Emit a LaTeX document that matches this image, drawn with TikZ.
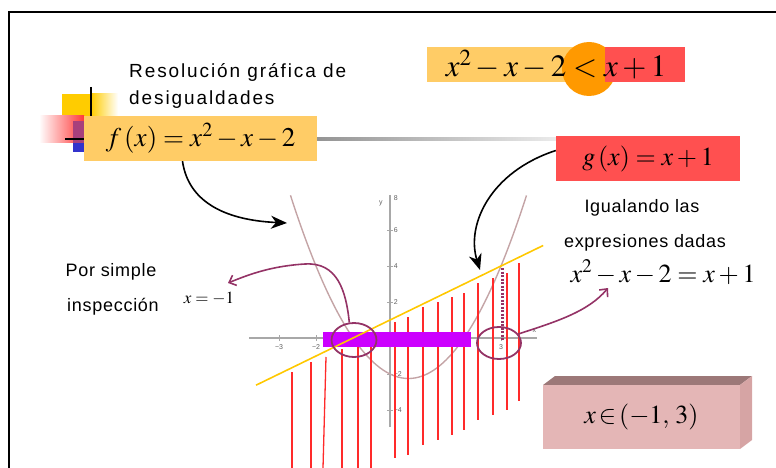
\documentclass[tikz,border=0pt]{standalone}
\usepackage{mathptmx}
\usepackage{fontspec}
\setmainfont{Liberation Serif}
\newfontfamily\lsans[LetterSpace=4]{Liberation Sans}
\newfontfamily\wsans[LetterSpace=10]{Liberation Sans}
\newfontfamily\tinysans{Liberation Sans}
\usetikzlibrary{arrows.meta,shapes.geometric}
\definecolor{boxor}{HTML}{FFCC66}
\definecolor{boxred}{HTML}{FF5050}
\definecolor{circor}{HTML}{FF9900}
\definecolor{plum}{HTML}{943366}
\definecolor{barv}{HTML}{CC00FF}
\definecolor{gold}{HTML}{FFC800}
\definecolor{hatch}{HTML}{FF2A2A}
\definecolor{parab}{HTML}{C4A4A6}
\definecolor{axisg}{HTML}{A8A8A8}
\definecolor{ticklbl}{HTML}{606060}
\definecolor{sqyel}{HTML}{FFCC00}
\definecolor{sqred}{HTML}{FF3838}
\definecolor{sqblue}{HTML}{3333CC}
\definecolor{sqmauve}{HTML}{A8407C}
\definecolor{brickF}{HTML}{E4B6B6}
\definecolor{brickT}{HTML}{9C7878}
\definecolor{brickS}{HTML}{D6A4A4}
\begin{document}
\begin{tikzpicture}[x=1pt,y=-1pt,
  lbl/.style={font=\lsans\fontsize{18}{22}\selectfont, inner sep=0pt, anchor=base},
  ttl/.style={font=\wsans\fontsize{19}{22}\selectfont, inner sep=0pt, anchor=base west},
  mth/.style={inner sep=0pt, anchor=base},
  mbox/.style={inner sep=0pt},
  plumarrow/.style={plum, line width=1.6pt, -{Straight Barb[length=6pt,width=11pt]}},
  blackarrow/.style={black, line width=1.6pt, -{Stealth[length=16pt,width=13pt,inset=5pt]}},
  hatchline/.style={hatch, line width=1.3pt},
  ringnode/.style={draw=plum, line width=1.8pt, ellipse, inner sep=0pt},
  ticklabel/.style={font=\tinysans\fontsize{7}{8}\selectfont, text=ticklbl, inner sep=0pt}]
\useasboundingbox (0,0) rectangle (776,468);
% frame
\draw[line width=2pt] (9,468) -- (9,12) -- (776,12);
% decoration squares
\fill[sqyel] (62,94) rectangle (91,125);
\shade[left color=sqyel, right color=white] (91,94) rectangle (118,125);
\shade[left color=white, right color=sqred] (39,116) rectangle (84,143);
\fill[sqmauve] (73,121) rectangle (84,143);
\fill[sqblue] (73,143) rectangle (84,152);
\draw[line width=1.5pt] (91,87) -- (91,125);
\shade[left color=black!75, right color=black!8] (84,137.5) rectangle (557,140.5);
\draw[line width=1.5pt] (65,139) -- (84,139);
% title
\node[ttl] (t1) at (129,78) {Resolución gráfica de};
\node[ttl] (t2) at (129,105) {desigualdades};
% f(x) box
\node[mbox, fill=boxor, minimum width=233pt, minimum height=45pt] (fbox) at (200.5,138.5) {\fontsize{27}{32}\selectfont $f\,(x)=x^{2}-x-2$};
% inequality
\fill[boxor] (427,47) rectangle (605,82);
\fill[circor] (589,69) circle (27);
\fill[boxred] (605,47) rectangle (685,82);
\node[mth] (ineq) at (556,77) {\fontsize{31}{36}\selectfont $x^{2}-x-2<x+1$};
% g(x) box
\node[mbox, fill=boxred, minimum width=184pt, minimum height=45pt] (gbox) at (648,158.5) {\fontsize{26}{30}\selectfont $g\,(x)=x+1$};
% graph
\begin{scope}[shift={(390,338)}, x=37pt, y=18pt]
  \draw[axisg, line width=1.6pt] (-3.81,0) -- (3.97,0);
  \draw[axisg, line width=1.6pt] (0,-4.94) -- (0,7.94);
  \foreach \t in {-3,-2,-1,1,2,3} \draw[axisg, line width=0.8pt] (\t,-0.17) -- (\t,0.17);
  \foreach \t in {-4,-2,2,4,6} \draw[axisg, line width=0.8pt] (-0.08,\t) -- (0.08,\t);
  \node[ticklabel] (lxm3) at (-3,-0.5) {−3};
  \node[ticklabel] (lxm2) at (-2,-0.5) {−2};
  \node[ticklabel] (lx3) at (3,-0.5) {3};
  \node[ticklabel] (lxx) at (3.9,0.4) {x};
  \node[ticklabel, anchor=west] (ly6) at (0.1,6) {6};
  \node[ticklabel, anchor=west] (ly4) at (0.1,4) {4};
  \node[ticklabel, anchor=west] (ly2) at (0.1,2) {2};
  \node[ticklabel, anchor=west] (lym2) at (0.1,-2) {−2};
  \node[ticklabel, anchor=west] (lym4) at (0.1,-4) {−4};
  \node[ticklabel, anchor=west] (ly8) at (0.1,7.8) {8};
  \node[ticklabel] (lyy) at (-0.25,7.5) {y};
  \draw[parab, line width=1.4pt, domain=-2.69:3.69, samples=80, smooth] plot (\x,{\x*\x-\x-2});
\end{scope}
% hatching
\foreach \xa/\ya/\xb/\yb in {292/372/292/468, 311/362/311/468, 326/357/323/468, 342/349/342/468, 358/340/358/468, 371/333/371/468, 395/322/395/458, 408/317/408/455, 423/307/423/445, 438/302/438/440, 452/297/452/435, 464/293/464/430, 478/283/478/420, 493/278/493/415, 507/273/507/410, 519/263/519/401}
  \draw[hatchline] (\xa,\ya) -- (\xb,\yb);
% solution bar
\fill[barv] (323,332) rectangle (471,347);
% line y = x+1
\begin{scope}[shift={(390,338)}, x=37pt, y=18pt]
  \draw[gold, line width=1.6pt] (-3.62,-2.62) -- (4.14,5.14);
\end{scope}
% rings and dotted line
\node[ringnode, minimum width=45pt, minimum height=34pt] (ellL) at (354,340) {};
\node[ringnode, minimum width=44pt, minimum height=32pt] (ellR) at (499,343) {};
\draw[plum, line width=3pt, dash pattern=on 2pt off 1.5pt] (502,268) -- (502,340);
% labels
\node[lbl] (p1) at (111,276) {Por simple};
\node[lbl] (p2) at (113,311) {inspección};
\node[mth] (xm1) at (209,303) {\fontsize{17}{20}\selectfont $x=-1$};
\node[lbl] (i1) at (642,212) {Igualando las};
\node[lbl] (i2) at (645,247) {expresiones dadas};
\node[mth] (eq) at (663,282) {\fontsize{26}{30}\selectfont $x^{2}-x-2=x+1$};
% 3D block
\fill[brickT] (543,385) -- (555,376) -- (752,376) -- (740,385) -- cycle;
\fill[brickS] (740,385) -- (752,376) -- (752,440) -- (740,449) -- cycle;
\node[mbox, fill=brickF, minimum width=197pt, minimum height=64pt] (sol) at (641.5,417) {\fontsize{26}{30}\selectfont $x\!\in\!(-1,\,3)$};
% arrow end points
\coordinate (xm1tip) at (228,283);
\coordinate (eqtip) at (608,288);
\coordinate (ftip) at (287,223);
\coordinate (gtip) at (480,270);
% arrows
\draw[plumarrow] (ellL.105) .. controls (346,290) and (337,262) .. (305,264) .. controls (272,266) and (250,274) .. (xm1tip);
\draw[plumarrow] (ellR.25) .. controls (555,322) and (588,312) .. (eqtip);
\draw[blackarrow] ([xshift=-18pt]fbox.south) .. controls (188,200) and (222,220) .. (ftip);
\draw[blackarrow] ([yshift=8pt]gbox.west) .. controls (490,172) and (466,225) .. (gtip);
\end{tikzpicture}
\end{document}
